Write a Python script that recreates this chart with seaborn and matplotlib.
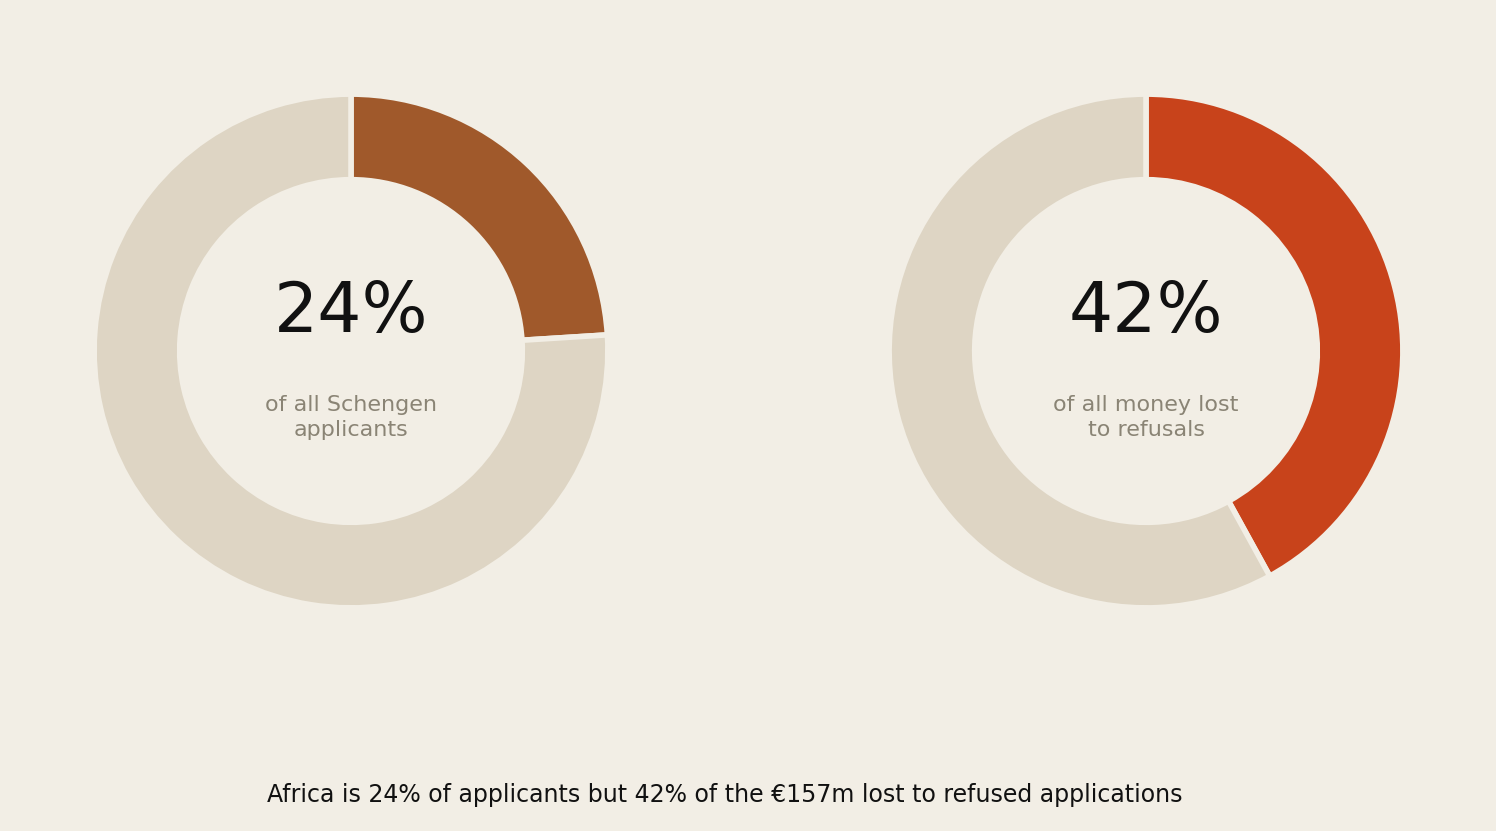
import matplotlib.pyplot as plt
import seaborn as sns

# data
labels = ["of all Schengen\napplicants", "of all money lost\nto refusals"]
shares = [24, 42]
colors = ["#a0592b", "#c8431b"]
rest_color = "#ded5c4"
bg = "#f2eee5"
caption = "Africa is 24% of applicants but 42% of the €157m lost to refused applications"

sns.set_theme(style="white")
plt.rcParams["font.family"] = ["DejaVu Sans"]

W, H = 1496, 831
fig = plt.figure(figsize=(W / 100, H / 100), dpi=100, facecolor=bg)

centers = [(351, 351), (1146, 351)]
r = 262
for (cx, cy), share, col, lab in zip(centers, shares, colors, labels):
    ax = fig.add_axes([(cx - r) / W, (H - cy - r) / H, 2 * r / W, 2 * r / H])
    ax.set_facecolor(bg)
    ax.pie([share, 100 - share], colors=[col, rest_color], startangle=90,
           counterclock=False, radius=1,
           wedgeprops=dict(width=0.333, edgecolor=bg, linewidth=4))
    ax.set_xlim(-1.02, 1.02)
    ax.set_ylim(-1.02, 1.02)
    ax.set_aspect("equal")
    ax.axis("off")
    ax.text(0, 0.15, f"{share}%", ha="center", va="center", fontsize=50, color="#111111")
    ax.text(0, -0.26, lab, ha="center", va="center", fontsize=16, color="#8a8475",
            linespacing=1.3)

fig.text(725 / W, 1 - 795 / H, caption, ha="center", va="center", fontsize=17, color="#111111")

fig.savefig("out.png", dpi=100, facecolor=bg)
